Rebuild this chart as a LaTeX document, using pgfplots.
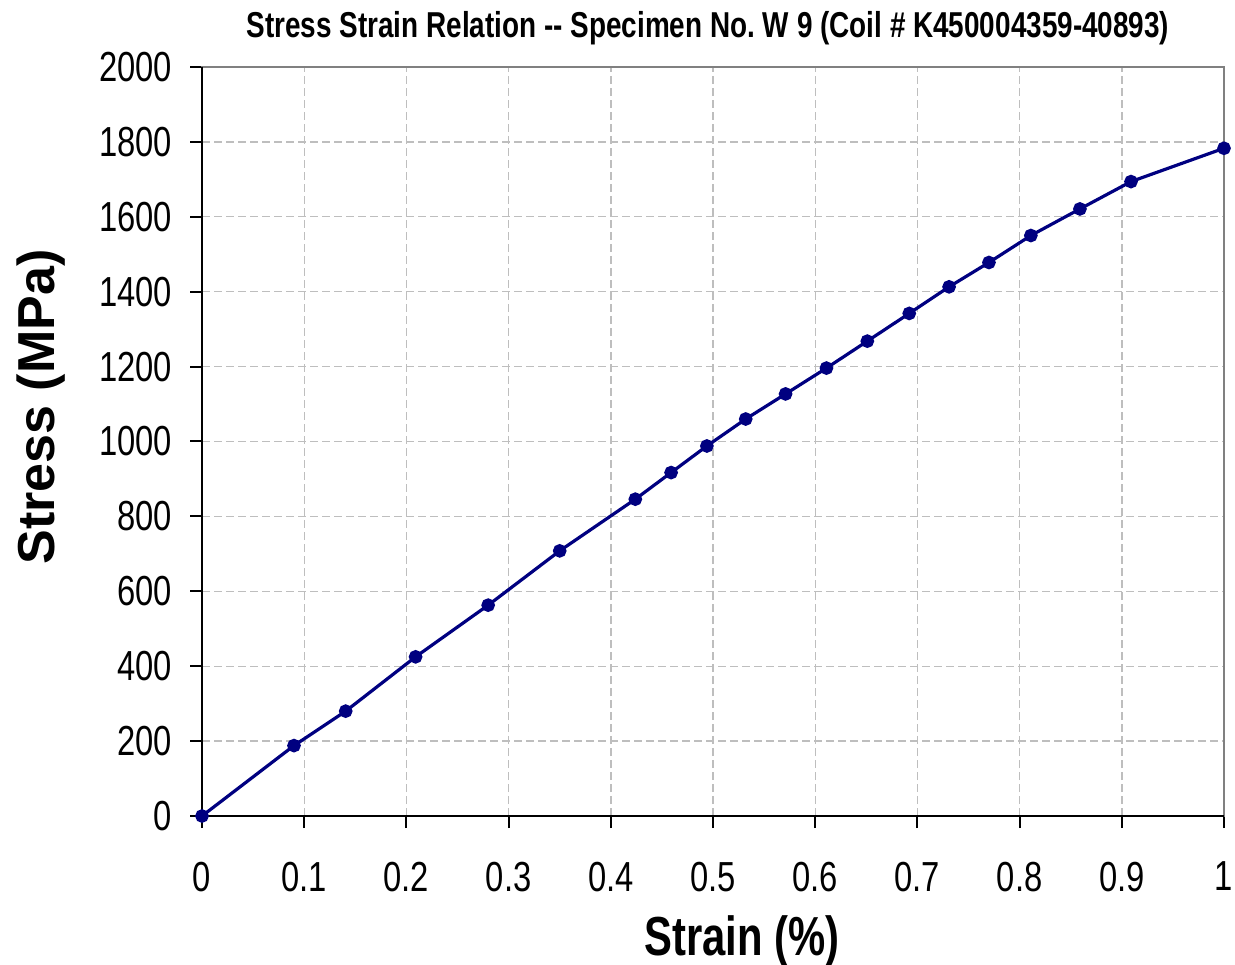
\documentclass[border=0pt]{standalone}
\usepackage{fontspec}
\setmainfont{Liberation Sans}
\newfontfamily\tickfont[FakeStretch=0.78]{Liberation Sans}
\newfontfamily\titlefont[FakeStretch=0.775]{Liberation Sans}
\newfontfamily\xlabfont[FakeStretch=0.76]{Liberation Sans}
\usepackage{pgfplots}
\pgfplotsset{compat=1.18}
\definecolor{navy}{RGB}{0,0,128}
\definecolor{gridgray}{RGB}{190,190,190}
\definecolor{bordergray}{RGB}{128,128,128}
\begin{document}
\begin{tikzpicture}
\useasboundingbox (0,0) rectangle (617.5pt,482pt);
\begin{axis}[
  at={(101pt,74pt)}, anchor=south west,
  scale only axis, width=511pt, height=374.5pt,
  xmin=0, xmax=1, ymin=0, ymax=2000,
  xtick={0,0.1,...,1.0}, ytick={0,200,...,2000},
  xticklabels={0,0.1,0.2,0.3,0.4,0.5,0.6,0.7,0.8,0.9,1},
  yticklabels={0,200,400,600,800,1000,1200,1400,1600,1800,2000},
  /pgf/number format/assume math mode=true,
  tick align=outside, major tick length=6pt,
  tick style={black, line width=1pt},
  xtick pos=bottom, ytick pos=left,
  tick label style={font=\fontsize{21pt}{21pt}\selectfont\tickfont},
  xticklabel style={yshift=-13.5pt},
  yticklabel style={xshift=-5.5pt},
  grid=major,
  major grid style={gridgray, dashed, line width=0.7pt, dash pattern=on 4pt off 2pt},
  axis line style={bordergray, line width=1.3pt},
  clip=false,
]
\addplot[navy, line width=1.6pt, mark=*, mark size=2.6pt, mark options={fill=navy, draw=navy}] coordinates {
(0,0) (0.090,188) (0.1406,280) (0.209,425) (0.280,563) (0.350,708)
(0.424,846) (0.459,917) (0.494,988) (0.532,1060) (0.571,1127)
(0.611,1196) (0.651,1268) (0.692,1342) (0.731,1413) (0.770,1478)
(0.811,1550) (0.859,1621) (0.909,1694) (1.0,1783)
};
\draw[black, line width=1.3pt] (rel axis cs:0,1) -- (rel axis cs:0,0) -- (rel axis cs:1,0);
\end{axis}
\node[anchor=base, font=\fontsize{18pt}{18pt}\selectfont\bfseries\titlefont] at (354pt,463pt) {Stress Strain Relation -- Specimen No.\ W 9 (Coil \# K450004359-40893)};
\node[anchor=base, font=\fontsize{27.5pt}{27.5pt}\selectfont\bfseries\xlabfont] at (371pt,4.5pt) {Strain (\%)};
\node[anchor=base, rotate=90, font=\fontsize{26pt}{26pt}\selectfont\bfseries] at (27.5pt,278.5pt) {Stress (MPa)};
\end{tikzpicture}
\end{document}
